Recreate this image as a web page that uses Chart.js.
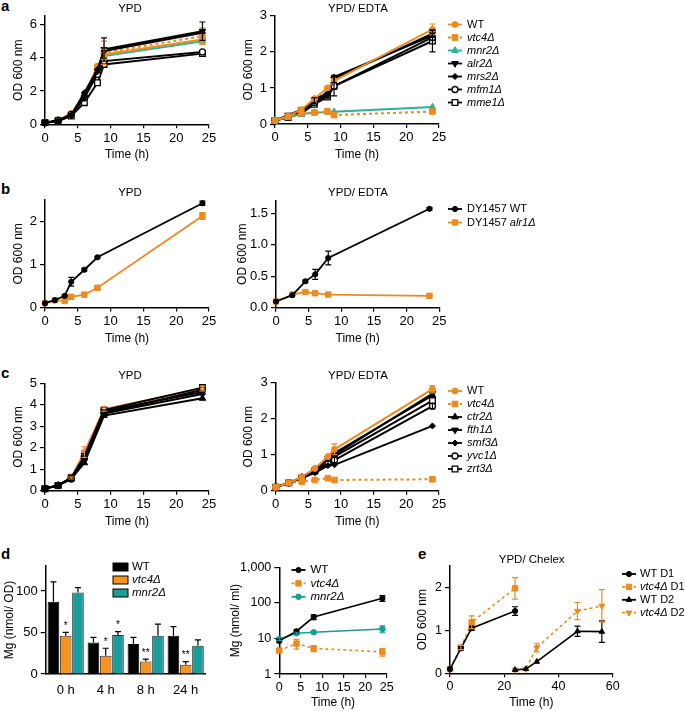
<!DOCTYPE html>
<html><head><meta charset="utf-8">
<script src="https://cdn.jsdelivr.net/npm/chart.js@4/dist/chart.umd.min.js"></script>
<style>
body{margin:0;background:#fff;width:685px;height:711px;position:relative;overflow:hidden;font-family:"Liberation Sans",Arial,sans-serif;}
.pl{position:absolute;font-weight:bold;font-size:15px;line-height:15px;color:#000;}
</style></head><body>
<div class="pl" style="left:1px;top:-2px">a</div>
<div class="pl" style="left:1px;top:181px">b</div>
<div class="pl" style="left:1px;top:365px">c</div>
<div class="pl" style="left:1px;top:546px">d</div>
<div class="pl" style="left:418px;top:546px">e</div>
<script>
// ---------------- DATA ----------------
const timeTicks25 = [0, 5, 10, 15, 20, 25];

// panel a
const aGenes = ['WT', '_vtc4Δ_', '_mnr2Δ_', '_alr2Δ_', '_mrs2Δ_', '_mfm1Δ_', '_mme1Δ_'];
const aTime = [0, 2, 4, 6, 8, 9, 24];
const aYpdWT   = [0.10, 0.25, 0.65, 1.80, 3.50, 4.20, 5.10];
const aYpdVtc4 = [0.10, 0.25, 0.60, 1.70, 3.40, 4.30, 5.30];
const aYpdMnr2 = [0.10, 0.20, 0.60, 1.70, 3.30, 4.10, 5.00];
const aYpdAlr2 = [0.10, 0.20, 0.55, 1.60, 3.20, 4.50, 5.60];
const aYpdMrs2 = [0.10, 0.20, 0.55, 1.90, 3.30, 4.40, 5.50];
const aYpdMfm1 = [0.10, 0.25, 0.60, 1.60, 3.00, 3.80, 4.35];
const aYpdMme1 = [0.10, 0.20, 0.50, 1.30, 2.50, 3.60, 4.25];
const aYpdErrWT   = [0, 0, 0, 0, 0, 0.30, 0.30];
const aYpdErrVtc4 = [0, 0, 0, 0, 0, 0.70, 0.50];
const aYpdErrAlr2 = [0, 0, 0, 0, 0, 0.70, 0.55];
const aYpdYTicks = [0, 2, 4, 6];

const aEdtaWT   = [0.10, 0.22, 0.40, 0.70, 1.00, 1.20, 2.62];
const aEdtaVtc4 = [0.10, 0.20, 0.30, 0.32, 0.35, 0.25, 0.35];
const aEdtaMnr2 = [0.10, 0.20, 0.27, 0.32, 0.33, 0.34, 0.47];
const aEdtaAlr2 = [0.10, 0.25, 0.40, 0.65, 0.80, 1.25, 2.50];
const aEdtaMrs2 = [0.10, 0.20, 0.35, 0.70, 0.85, 1.30, 2.45];
const aEdtaMfm1 = [0.10, 0.20, 0.30, 0.60, 0.80, 1.05, 2.40];
const aEdtaMme1 = [0.10, 0.18, 0.30, 0.55, 0.75, 1.05, 2.30];
const aEdtaErrWT   = [0, 0, 0, 0, 0, 0.05, 0.15];
const aEdtaErrAlr2 = [0, 0, 0, 0.08, 0, 0.10, 0.10];
const aEdtaErrMme1 = [0, 0, 0, 0, 0, 0.27, 0.30];
const aEdtaYTicks = [0, 1, 2, 3];

// panel b
const bGenes = ['DY1457 WT', 'DY1457 _alr1Δ_'];
const bYpdTime = [0, 1.5, 3, 4, 6, 8, 24];
const bYpdWT   = [0.10, 0.17, 0.27, 0.60, 0.88, 1.17, 2.43];
const bYpdAlr1 = [0.10, 0.17, 0.15, 0.25, 0.30, 0.46, 2.13];
const bYpdErrWT   = [0, 0, 0.03, 0.10, 0.03, 0.02, 0.05];
const bYpdErrAlr1 = [0, 0, 0, 0, 0, 0.02, 0.08];
const bYpdYTicks = [0, 1, 2];

const bEdtaTime = [0, 2.5, 4.5, 6, 8, 23.5];
const bEdtaWT   = [0.10, 0.20, 0.42, 0.53, 0.79, 1.57];
const bEdtaAlr1 = [0.10, 0.21, 0.25, 0.23, 0.21, 0.19];
const bEdtaErrWT = [0, 0, 0.02, 0.08, 0.11, 0.02];
const bEdtaYTicks = [0, 0.5, 1, 1.5];
const bEdtaYLabels = ['0.0', '0.5', '1.0', '1.5'];

// panel c
const cGenes = ['WT', '_vtc4Δ_', '_ctr2Δ_', '_fth1Δ_', '_smf3Δ_', '_yvc1Δ_', '_zrt3Δ_'];
const cYpdTime = [0, 2, 4, 6, 9, 24];
const cYpdWT   = [0.10, 0.25, 0.60, 1.80, 3.80, 4.75];
const cYpdVtc4 = [0.10, 0.25, 0.65, 1.70, 3.75, 4.65];
const cYpdCtr2 = [0.10, 0.25, 0.55, 1.30, 3.50, 4.30];
const cYpdFth1 = [0.10, 0.25, 0.60, 1.50, 3.70, 4.60];
const cYpdSmf3 = [0.10, 0.25, 0.60, 1.60, 3.60, 4.50];
const cYpdYvc1 = [0.10, 0.25, 0.55, 1.50, 3.60, 4.70];
const cYpdZrt3 = [0.10, 0.25, 0.60, 1.60, 3.75, 4.80];
const cYpdErrWT = [0, 0, 0.05, 0.25, 0.10, 0.10];
const cYpdYTicks = [0, 1, 2, 3, 4, 5];

const cEdtaTime = [0, 2, 4, 6, 8, 9, 24];
const cEdtaWT   = [0.10, 0.22, 0.38, 0.62, 0.95, 1.15, 2.82];
const cEdtaVtc4 = [0.10, 0.22, 0.25, 0.30, 0.35, 0.30, 0.32];
const cEdtaCtr2 = [0.10, 0.22, 0.38, 0.60, 0.90, 1.05, 2.65];
const cEdtaFth1 = [0.10, 0.22, 0.35, 0.55, 0.90, 1.00, 2.70];
const cEdtaSmf3 = [0.10, 0.22, 0.35, 0.50, 0.70, 0.72, 1.80];
const cEdtaYvc1 = [0.10, 0.22, 0.35, 0.55, 0.75, 0.85, 2.35];
const cEdtaZrt3 = [0.10, 0.22, 0.35, 0.55, 0.80, 0.95, 2.50];
const cEdtaErrWT = [0, 0, 0, 0, 0, 0.15, 0.10];
const cEdtaErrYvc1 = [0, 0, 0, 0, 0, 0.10, 0.08];
const cEdtaYTicks = [0, 1, 2, 3];

// panel d
const dGenes = ['WT', '_vtc4Δ_', '_mnr2Δ_'];
const dTimes = ['0 h', '4 h', '8 h', '24 h'];
const dCellWT   = [87, 38, 36, 46];
const dCellVtc4 = [46, 22, 15, 11];
const dCellMnr2 = [98, 47, 46, 34];
const dCellErrWT   = [24, 6, 8, 11];
const dCellErrVtc4 = [4, 9, 3, 4];
const dCellErrMnr2 = [6, 4, 14, 7];
const dStarsVtc4 = ['*', '*', '**', '**'];
const dStarsMnr2 = ['', '*', '', ''];
const dCellYTicks = [0, 50, 100];

const dMediumTime = [0, 4, 8, 24];
const dMediumWT   = [8.6, 16, 40, 135];
const dMediumVtc4 = [4.6, 7.2, 5.3, 4.2];
const dMediumMnr2 = [9.6, 14, 15, 18.5];
const dMediumErrWT   = [1.0, 1.5, 6, 25];
const dMediumErrVtc4 = [0.4, 2.2, 1.0, 1.0];
const dMediumErrMnr2 = [0.8, 1.0, 1.0, 4.0];
const dMediumYTicks = [1, 10, 100, 1000];
const dMediumYLabels = ['1', '10', '100', '1,000'];

// panel e
const eGenes = ['WT D1', '_vtc4Δ_ D1', 'WT D2', '_vtc4Δ_ D2'];
const eTimeD1 = [0, 4, 8, 24];
const eWTD1   = [0.10, 0.58, 1.05, 1.45];
const eVtc4D1 = [0.10, 0.60, 1.19, 1.98];
const eErrWTD1   = [0, 0.04, 0.05, 0.10];
const eErrVtc4D1 = [0, 0.05, 0.15, 0.25];
const eTimeD2 = [24, 28, 32, 47, 56];
const eWTD2   = [0.08, 0.10, 0.27, 0.98, 0.97];
const eVtc4D2 = [0.08, 0.10, 0.60, 1.45, 1.57];
const eErrWTD2   = [0, 0, 0, 0.12, 0.25];
const eErrVtc4D2 = [0, 0, 0.10, 0.20, 0.38];
const eYTicks = [0, 1, 2];
const eXTicks = [0, 20, 40, 60];

// ---------------- STYLE ----------------
const F = '"Liberation Sans", Arial, Helvetica, sans-serif';
const ORANGE = '#EE8A1E', TEAL_A = '#27B29B', TEAL = '#1A9C99', BLACK = '#000';
const AX_T = 12, TK = 13, LEG = 11, TTL = 11.5;

const S = {
  wt:    {color: ORANGE, style: 'circle', r: 3},
  vtc4:  {color: ORANGE, style: 'rect', r: 4, dash: [3, 3]},
  mnr2:  {color: TEAL_A, style: 'triangle', r: 3.8},
  blkUp: {color: BLACK, style: 'triangle', r: 3.8},
  blkDn: {color: BLACK, style: 'triangle', r: 3.8, rot: 180},
  blkDi: {color: BLACK, style: 'rectRot', r: 3},
  blkOc: {color: BLACK, style: 'circle', r: 3, open: true},
  blkOs: {color: BLACK, style: 'rect', r: 4, open: true},
  blkC:  {color: BLACK, style: 'circle', r: 2.6},
  orS:   {color: ORANGE, style: 'rect', r: 3.8},
  orSd:  {color: ORANGE, style: 'rect', r: 3.8, dash: [3, 3]},
  orTd:  {color: ORANGE, style: 'triangle', r: 3.8, rot: 180, dash: [3, 3]},
  tealC: {color: TEAL, style: 'circle', r: 2.8}
};

function plain(s) { return s.replace(/_/g, ''); }
function parts(s) {
  return s.split('_').map((t, i) => [t, i % 2 === 1]).filter(p => p[0].length);
}

function lineDs(label, xs, ys, err, st, lw, order) {
  return {
    label: plain(label), rawLabel: label, st,
    data: xs.map((x, i) => ({x, y: ys[i]})), err,
    borderColor: st.color, backgroundColor: st.color, borderWidth: lw,
    borderDash: st.dash || [], pointStyle: st.style, pointRadius: st.r,
    pointRotation: st.rot || 0, pointBackgroundColor: st.open ? '#fff' : st.color,
    pointBorderColor: st.color, pointBorderWidth: st.open ? 1.3 : 1,
    pointHoverRadius: st.r, tension: 0, fill: false, clip: false, order: order || 0
  };
}

function drawMarker(ctx, st, x, y) {
  const r = st.r; let rad = (st.rot || 0) * Math.PI / 180;
  ctx.save();
  ctx.setLineDash([]);
  ctx.fillStyle = st.open ? '#fff' : st.color;
  ctx.strokeStyle = st.color; ctx.lineWidth = st.open ? 1.3 : 1;
  ctx.beginPath();
  if (st.style === 'circle') ctx.arc(x, y, r, 0, Math.PI * 2);
  else if (st.style === 'rect') { const s = r * Math.SQRT1_2; ctx.rect(x - s, y - s, 2 * s, 2 * s); }
  else if (st.style === 'rectRot') { ctx.moveTo(x, y - r); ctx.lineTo(x + r, y); ctx.lineTo(x, y + r); ctx.lineTo(x - r, y); ctx.closePath(); }
  else if (st.style === 'triangle') {
    for (let k = 0; k < 3; k++) {
      const px = x + Math.sin(rad) * r, py = y - Math.cos(rad) * r;
      if (k === 0) ctx.moveTo(px, py); else ctx.lineTo(px, py);
      rad += 2 * Math.PI / 3;
    }
    ctx.closePath();
  }
  ctx.fill(); ctx.stroke();
  ctx.restore();
}

const decor = {
  id: 'decor',
  afterDatasetsDraw(chart, args, o) {
    const ctx = chart.ctx;
    chart.data.datasets.forEach((ds, i) => {
      if (!ds.err) return;
      const meta = chart.getDatasetMeta(i);
      const ys = chart.scales[meta.yAxisID];
      ctx.save();
      ctx.strokeStyle = ds.errColor || ds.borderColor;
      ctx.lineWidth = 1.2; ctx.setLineDash([]);
      ds.err.forEach((e, j) => {
        if (!e) return;
        const d = ds.data[j];
        const v = (typeof d === 'object') ? d.y : d;
        const el = meta.data[j];
        const x = el.x;
        const yt = ys.getPixelForValue(v + e);
        const yb = ds.errUp ? el.y : ys.getPixelForValue(Math.max(v - e, ys.min));
        const cw = ds.capW || 3;
        ctx.beginPath();
        ctx.moveTo(x, yb); ctx.lineTo(x, yt);
        ctx.moveTo(x - cw, yt); ctx.lineTo(x + cw, yt);
        if (!ds.errUp) { ctx.moveTo(x - cw, yb); ctx.lineTo(x + cw, yb); }
        ctx.stroke();
      });
      ctx.restore();
    });
    if (o.stars) {
      ctx.save();
      ctx.fillStyle = '#000'; ctx.textAlign = 'center'; ctx.textBaseline = 'middle';
      ctx.font = '10px ' + F;
      o.stars.forEach(sd => {
        const ds = chart.data.datasets[sd.ds];
        const meta = chart.getDatasetMeta(sd.ds);
        const ys = chart.scales[meta.yAxisID];
        sd.marks.forEach((m, j) => {
          if (!m) return;
          const top = ys.getPixelForValue(ds.data[j] + (ds.err ? ds.err[j] : 0));
          ctx.fillText(m, meta.data[j].x, top - 6);
        });
      });
      ctx.restore();
    }
  },
  afterDraw(chart, args, o) {
    const ctx = chart.ctx;
    if (o.title) {
      ctx.save();
      ctx.fillStyle = '#000'; ctx.textAlign = 'center'; ctx.textBaseline = 'middle';
      ctx.font = TTL + 'px ' + F;
      ctx.fillText(o.title.text, o.title.x - o.ox, o.title.y - o.oy);
      ctx.restore();
    }
    if (o.legend) {
      const lg = o.legend;
      ctx.save();
      lg.items.forEach((it, k) => {
        const y = lg.y + k * lg.step - o.oy;
        const x = lg.x - o.ox;
        if (it.box) {
          ctx.fillStyle = it.color; ctx.strokeStyle = '#000'; ctx.lineWidth = 1;
          ctx.fillRect(x, y - 4, 15, 8); ctx.strokeRect(x, y - 4, 15, 8);
        } else {
          ctx.strokeStyle = it.st.color; ctx.lineWidth = lg.lw || 1.8;
          ctx.setLineDash(it.st.dash || []);
          ctx.beginPath(); ctx.moveTo(x, y); ctx.lineTo(x + lg.len, y); ctx.stroke();
          ctx.setLineDash([]);
          drawMarker(ctx, it.st, x + lg.len / 2, y);
        }
        let tx = x + (it.box ? 19 : lg.len + (lg.gap || 5));
        ctx.fillStyle = '#000'; ctx.textBaseline = 'middle'; ctx.textAlign = 'left';
        it.parts.forEach(p => {
          ctx.font = (p[1] ? 'italic ' : '') + (lg.size || LEG) + 'px ' + F;
          ctx.fillText(p[0], tx, y);
          tx += ctx.measureText(p[0]).width;
        });
      });
      ctx.restore();
    }
  }
};

function makeChart(box, type, data, sc, extra) {
  const tk = sc.tick || TK;
  const lh = AX_T * 1.2;
  const xh = box.xTitleY ? (box.xTitleY - box.B + lh / 2) : box.xh;
  const cb = box.B + xh + 2;
  const w = box.cr - box.cl, h = Math.round(cb - box.ct);
  const cv = document.createElement('canvas');
  cv.width = w; cv.height = h;
  cv.style.cssText = `position:absolute;left:${box.cl}px;top:${box.ct}px;width:${w}px;height:${h}px`;
  document.body.appendChild(cv);
  const tickFont = {family: F, size: tk};
  const titleFont = {family: F, size: AX_T};
  const grid = {display: true, drawOnChartArea: false, drawTicks: true, tickLength: 4, color: '#000', lineWidth: 1.2};
  const border = {display: true, color: '#000', width: 1.5};
  const xScale = sc.xCat ? {
    type: 'category', offset: true,
    afterFit: s => { s.height = xh; },
    grid: {display: true, drawOnChartArea: false, drawTicks: false, color: 'rgba(0,0,0,0)'},
    border,
    ticks: {font: tickFont, color: '#000', padding: 9, maxRotation: 0, autoSkip: false}
  } : {
    type: 'linear', min: sc.xMin, max: sc.xMax,
    afterBuildTicks: s => { s.ticks = sc.xTicks.map(v => ({value: v})); },
    afterFit: s => { s.height = xh; },
    grid, border,
    ticks: {font: tickFont, color: '#000', padding: 2, maxRotation: 0, autoSkip: false},
    title: {display: !!sc.xTitle, text: sc.xTitle, font: titleFont, color: '#000', padding: {top: 0, bottom: 0}}
  };
  const yScale = {
    type: sc.yLog ? 'logarithmic' : 'linear', min: sc.yMin, max: sc.yMax,
    afterBuildTicks: s => { s.ticks = sc.yTicks.map(v => ({value: v})); },
    afterFit: s => { s.width = box.L - box.cl; },
    grid: Object.assign({}, grid, {tickLength: 5}), border,
    ticks: {font: tickFont, color: '#000', padding: 3, autoSkip: false,
      callback: (v, i) => sc.yLabels ? sc.yLabels[i] : String(v)},
    title: {display: true, text: sc.yTitle, font: titleFont, color: '#000',
      padding: {top: box.yTitleX - box.cl - lh / 2, bottom: 0}}
  };
  const dec = Object.assign({ox: box.cl, oy: box.ct}, extra || {});
  return new Chart(cv, {
    type, data,
    options: {
      responsive: false, animation: false, devicePixelRatio: 1,
      layout: {padding: {left: 0, top: box.T - box.ct, right: box.cr - box.R, bottom: 2}},
      scales: {x: xScale, y: yScale},
      plugins: {legend: {display: false}, tooltip: {enabled: false}, title: {display: false}, decor: dec},
      events: []
    },
    plugins: [decor]
  });
}

function legendFrom(datasets, x, y, step, len) {
  return {x, y, step, len, items: datasets.map(d => ({st: d.st, parts: parts(d.rawLabel)}))};
}

// ---------------- CHARTS ----------------
const OD = 'OD 600 nm', TH = 'Time (h)';

// a - YPD
{
  const ds = [
    lineDs(aGenes[0], aTime, aYpdWT, aYpdErrWT, S.wt, 2, 1),
    lineDs(aGenes[1], aTime, aYpdVtc4, aYpdErrVtc4, S.vtc4, 2, 1),
    lineDs(aGenes[2], aTime, aYpdMnr2, null, S.mnr2, 2, 1),
    lineDs(aGenes[3], aTime, aYpdAlr2, aYpdErrAlr2, S.blkDn, 2),
    lineDs(aGenes[4], aTime, aYpdMrs2, null, S.blkDi, 2),
    lineDs(aGenes[5], aTime, aYpdMfm1, null, S.blkOc, 2),
    lineDs(aGenes[6], aTime, aYpdMme1, null, S.blkOs, 2)
  ];
  makeChart({cl: 0, ct: 0, cr: 228, L: 45, T: 16.2, R: 209, B: 124.5, yTitleX: 19, xTitleY: 155},
    'line', {datasets: ds},
    {xMin: 0, xMax: 25, xTicks: timeTicks25, yMin: 0, yMax: 6.5, yTicks: aYpdYTicks, yTitle: OD, xTitle: TH},
    {title: {text: 'YPD', x: 130, y: 9}});
}
// a - YPD/EDTA
{
  const ds = [
    lineDs(aGenes[0], aTime, aEdtaWT, aEdtaErrWT, S.wt, 2),
    lineDs(aGenes[1], aTime, aEdtaVtc4, null, S.vtc4, 2),
    lineDs(aGenes[2], aTime, aEdtaMnr2, null, S.mnr2, 2),
    lineDs(aGenes[3], aTime, aEdtaAlr2, aEdtaErrAlr2, S.blkDn, 2),
    lineDs(aGenes[4], aTime, aEdtaMrs2, null, S.blkDi, 2),
    lineDs(aGenes[5], aTime, aEdtaMfm1, null, S.blkOc, 2),
    lineDs(aGenes[6], aTime, aEdtaMme1, aEdtaErrMme1, S.blkOs, 2)
  ];
  makeChart({cl: 230, ct: 0, cr: 685, L: 275, T: 15.7, R: 439, B: 124.3, yTitleX: 249, xTitleY: 155},
    'line', {datasets: ds},
    {xMin: 0, xMax: 25, xTicks: timeTicks25, yMin: 0, yMax: 3, yTicks: aEdtaYTicks, yTitle: OD, xTitle: TH},
    {title: {text: 'YPD/ EDTA', x: 358, y: 9}, legend: legendFrom(ds, 448, 24.5, 13, 14)});
}
// b - YPD
{
  const ds = [
    lineDs(bGenes[0], bYpdTime, bYpdWT, bYpdErrWT, S.blkC, 1.8),
    lineDs(bGenes[1], bYpdTime, bYpdAlr1, bYpdErrAlr1, S.orS, 1.8)
  ];
  makeChart({cl: 0, ct: 180, cr: 228, L: 45, T: 200.2, R: 209, B: 307.7, yTitleX: 19, xTitleY: 339},
    'line', {datasets: ds},
    {xMin: 0, xMax: 25, xTicks: timeTicks25, yMin: 0, yMax: 2.5, yTicks: bYpdYTicks, yTitle: OD, xTitle: TH},
    {title: {text: 'YPD', x: 130, y: 193}});
}
// b - YPD/EDTA
{
  const ds = [
    lineDs(bGenes[0], bEdtaTime, bEdtaWT, bEdtaErrWT, S.blkC, 1.8),
    lineDs(bGenes[1], bEdtaTime, bEdtaAlr1, null, S.orS, 1.8)
  ];
  makeChart({cl: 230, ct: 180, cr: 685, L: 276, T: 200.6, R: 439.3, B: 308, yTitleX: 242.3, xTitleY: 339},
    'line', {datasets: ds},
    {xMin: 0, xMax: 25, xTicks: timeTicks25, yMin: 0, yMax: 1.7, yTicks: bEdtaYTicks, yLabels: bEdtaYLabels, yTitle: OD, xTitle: TH},
    {title: {text: 'YPD/ EDTA', x: 358, y: 193}, legend: legendFrom(ds, 448, 209, 13.5, 14)});
}
// c - YPD
{
  const ds = [
    lineDs(cGenes[0], cYpdTime, cYpdWT, cYpdErrWT, S.wt, 2, 1),
    lineDs(cGenes[1], cYpdTime, cYpdVtc4, null, S.vtc4, 2, 1),
    lineDs(cGenes[2], cYpdTime, cYpdCtr2, null, S.blkUp, 2),
    lineDs(cGenes[3], cYpdTime, cYpdFth1, null, S.blkDn, 2),
    lineDs(cGenes[4], cYpdTime, cYpdSmf3, null, S.blkDi, 2),
    lineDs(cGenes[5], cYpdTime, cYpdYvc1, null, S.blkOc, 2),
    lineDs(cGenes[6], cYpdTime, cYpdZrt3, null, S.blkOs, 2)
  ];
  makeChart({cl: 0, ct: 360, cr: 228, L: 45, T: 383.3, R: 209, B: 490.7, yTitleX: 19, xTitleY: 521.7},
    'line', {datasets: ds},
    {xMin: 0, xMax: 25, xTicks: timeTicks25, yMin: 0, yMax: 5, yTicks: cYpdYTicks, yTitle: OD, xTitle: TH},
    {title: {text: 'YPD', x: 130, y: 376}});
}
// c - YPD/EDTA
{
  const ds = [
    lineDs(cGenes[0], cEdtaTime, cEdtaWT, cEdtaErrWT, S.wt, 2),
    lineDs(cGenes[1], cEdtaTime, cEdtaVtc4, null, S.vtc4, 2),
    lineDs(cGenes[2], cEdtaTime, cEdtaCtr2, null, S.blkUp, 2),
    lineDs(cGenes[3], cEdtaTime, cEdtaFth1, null, S.blkDn, 2),
    lineDs(cGenes[4], cEdtaTime, cEdtaSmf3, null, S.blkDi, 2),
    lineDs(cGenes[5], cEdtaTime, cEdtaYvc1, cEdtaErrYvc1, S.blkOc, 2),
    lineDs(cGenes[6], cEdtaTime, cEdtaZrt3, null, S.blkOs, 2)
  ];
  makeChart({cl: 230, ct: 360, cr: 685, L: 275.7, T: 382.7, R: 439, B: 490.7, yTitleX: 249, xTitleY: 521.7},
    'line', {datasets: ds},
    {xMin: 0, xMax: 25, xTicks: timeTicks25, yMin: 0, yMax: 3, yTicks: cEdtaYTicks, yTitle: OD, xTitle: TH},
    {title: {text: 'YPD/ EDTA', x: 358, y: 376}, legend: legendFrom(ds, 448, 391, 13, 14)});
}
// d - cellular Mg bars
{
  const mk = (lab, vals, err, col) => ({label: plain(lab), data: vals, err, errUp: true, capW: 3,
    errColor: '#000', backgroundColor: col, borderColor: col === BLACK ? BLACK : '#333', borderWidth: 1,
    categoryPercentage: 0.92, barPercentage: 0.95, clip: false});
  const ds = [
    mk(dGenes[0], dCellWT, dCellErrWT, BLACK),
    mk(dGenes[1], dCellVtc4, dCellErrVtc4, '#F7941E'),
    mk(dGenes[2], dCellMnr2, dCellErrMnr2, TEAL)
  ];
  const cols = [BLACK, '#F7941E', TEAL];
  makeChart({cl: 0, ct: 540, cr: 228, L: 45.7, T: 566, R: 205.7, B: 674.3, yTitleX: 10, xh: 28},
    'bar', {labels: dTimes, datasets: ds},
    {xCat: true, yMin: 0, yMax: 130, yTicks: dCellYTicks, yTitle: 'Mg (nmol/ OD)'},
    {stars: [{ds: 1, marks: dStarsVtc4}, {ds: 2, marks: dStarsMnr2}],
     legend: {x: 113, y: 567, step: 13, size: 11.5,
       items: dGenes.map((g, i) => ({box: true, color: cols[i], parts: parts(g)}))}});
}
// d - medium Mg (log)
{
  const ds = [
    lineDs(dGenes[0], dMediumTime, dMediumWT, dMediumErrWT, S.blkC, 1.6),
    lineDs(dGenes[1], dMediumTime, dMediumVtc4, dMediumErrVtc4, S.orSd, 1.6),
    lineDs(dGenes[2], dMediumTime, dMediumMnr2, dMediumErrMnr2, S.tealC, 1.6)
  ];
  makeChart({cl: 230, ct: 540, cr: 410, L: 279.3, T: 567.3, R: 386.7, B: 674.3, yTitleX: 236, xTitleY: 703},
    'line', {datasets: ds},
    {xMin: 0, xMax: 25, xTicks: timeTicks25, yLog: true, yMin: 1, yMax: 1000, yTicks: dMediumYTicks, yLabels: dMediumYLabels, yTitle: 'Mg (nmol/ ml)', xTitle: TH, tick: 12.5},
    {legend: Object.assign(legendFrom(ds, 291.5, 570, 13.4, 14), {size: 11.5})});
}
// e - YPD/Chelex
{
  const ds = [
    lineDs(eGenes[0], eTimeD1, eWTD1, eErrWTD1, S.blkC, 1.6),
    lineDs(eGenes[1], eTimeD1, eVtc4D1, eErrVtc4D1, S.orSd, 1.6),
    lineDs(eGenes[2], eTimeD2, eWTD2, eErrWTD2, Object.assign({}, S.blkUp, {r: 3.2}), 1.6),
    lineDs(eGenes[3], eTimeD2, eVtc4D2, eErrVtc4D2, Object.assign({}, S.orTd, {r: 3.4}), 1.6)
  ];
  makeChart({cl: 412, ct: 540, cr: 685, L: 450, T: 566, R: 612.7, B: 673.5, yTitleX: 422.7, xTitleY: 703},
    'line', {datasets: ds},
    {xMin: 0, xMax: 60, xTicks: eXTicks, yMin: 0, yMax: 2.5, yTicks: eYTicks, yTitle: OD, xTitle: TH, tick: 12.5},
    {title: {text: 'YPD/ Chelex', x: 531.7, y: 560}, legend: Object.assign(legendFrom(ds, 622, 574, 12.9, 14), {size: 11, gap: 4})});
}
</script>
</body></html>
